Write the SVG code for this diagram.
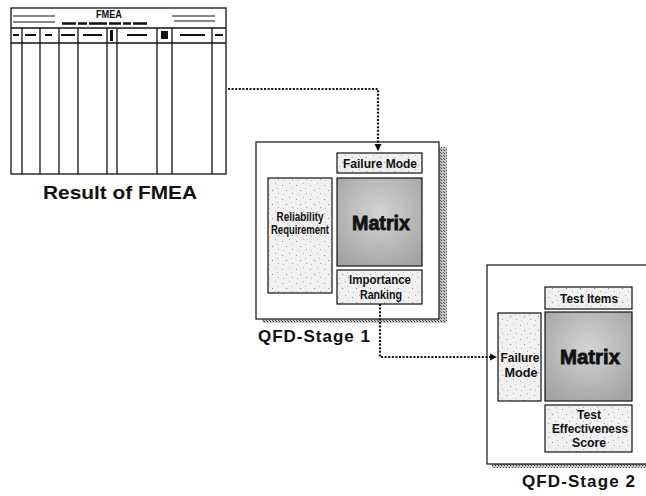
<svg xmlns="http://www.w3.org/2000/svg" width="646" height="496" viewBox="0 0 646 496">
  <style>
    .tbl { fill: none; stroke: #111; stroke-width: 1.3; }
    .ink { fill: #111; }
    .frame { fill: #fff; stroke: #111; stroke-width: 1.2; }
    .shadow { fill: url(#hatch); }
    .cell { fill: url(#speckle); stroke: #111; stroke-width: 1.2; }
    .matrix { fill: url(#matrixFill); stroke: #111; stroke-width: 1.2; }
    .lbl { font-family: "Liberation Sans", Arial, sans-serif; font-weight: bold; font-size: 12px; fill: #111; text-anchor: middle; }
    .big { font-family: "Liberation Sans", Arial, sans-serif; font-weight: bold; font-size: 20px; fill: #111; stroke: #111; stroke-width: 0.8; text-anchor: middle; }
    .cap { font-family: "Liberation Sans", Arial, sans-serif; font-weight: bold; font-size: 17px; fill: #111; }
    .link { fill: none; stroke: #111; stroke-width: 2.2; stroke-dasharray: 2 1.6; }
  </style>
  <defs>
    <pattern id="hatch" width="3" height="3" patternUnits="userSpaceOnUse">
      <rect width="3" height="3" fill="#c4c4c4"/>
      <rect width="1" height="1" fill="#3a3a3a"/>
      <rect x="2" y="2" width="1" height="1" fill="#5a5a5a"/>
    </pattern>
    <pattern id="speckle" width="14" height="14" patternUnits="userSpaceOnUse">
      <rect width="14" height="14" fill="#f0f0f0"/>
      <rect x="2" y="3" width="1" height="1" fill="#9a9a9a"/>
      <rect x="9" y="1" width="1" height="1" fill="#b0b0b0"/>
      <rect x="6" y="8" width="1" height="1" fill="#8a8a8a"/>
      <rect x="12" y="11" width="1" height="1" fill="#a5a5a5"/>
      <rect x="3" y="12" width="1" height="1" fill="#bbbbbb"/>
      <rect x="11" y="6" width="1" height="1" fill="#c0c0c0"/>
    </pattern>
    <radialGradient id="matrixFill" cx="0.5" cy="0.4" r="0.7">
      <stop offset="0" stop-color="#d4d4d4"/>
      <stop offset="1" stop-color="#a2a2a2"/>
    </radialGradient>
    <marker id="arrow" markerWidth="8" markerHeight="8" refX="6" refY="4" orient="auto" markerUnits="userSpaceOnUse">
      <path d="M0,0.5 L7,4 L0,7.5 Z" fill="#111"/>
    </marker>
  </defs>

  <!-- FMEA worksheet -->
  <g id="fmea-sheet">
    <rect class="tbl" x="11" y="8" width="215" height="166"/>
    <line class="tbl" x1="11" y1="28" x2="226" y2="28"/>
    <line class="tbl" x1="11" y1="43" x2="226" y2="43"/>
    <g class="tbl">
      <line x1="22" y1="28" x2="22" y2="174"/>
      <line x1="40" y1="28" x2="40" y2="174"/>
      <line x1="59" y1="28" x2="59" y2="174"/>
      <line x1="78" y1="28" x2="78" y2="174"/>
      <line x1="107" y1="28" x2="107" y2="174"/>
      <line x1="117" y1="28" x2="117" y2="174"/>
      <line x1="157" y1="28" x2="157" y2="174"/>
      <line x1="172" y1="28" x2="172" y2="174"/>
      <line x1="212" y1="28" x2="212" y2="174"/>
    </g>
    <!-- header rules -->
    <g stroke="#111" stroke-width="1">
      <line x1="13" y1="16" x2="55" y2="16"/>
      <line x1="13" y1="22" x2="55" y2="22"/>
      <line x1="172" y1="16" x2="215" y2="16"/>
      <line x1="174" y1="21" x2="215" y2="21"/>
    </g>
    <text x="109" y="18" font-family="Liberation Sans, Arial, sans-serif" font-weight="bold" font-size="11" text-anchor="middle" fill="#111" textLength="26" lengthAdjust="spacingAndGlyphs">FMEA</text>
    <!-- smudged print of the subtitle and column headings -->
    <line x1="62" y1="23.5" x2="156" y2="23.5" stroke="#111" stroke-width="2.4" stroke-dasharray="14 2 9 2 18 2 12 2 8 2 14"/>
    <g class="ink">
      <rect x="13" y="34" width="6" height="2"/>
      <rect x="25" y="34" width="11" height="2"/>
      <rect x="45" y="34" width="7" height="2"/>
      <rect x="61" y="34" width="14" height="2"/>
      <rect x="83" y="34" width="19" height="2"/>
      <rect x="110" y="30" width="3" height="11"/>
      <rect x="127" y="34" width="20" height="2"/>
      <rect x="161" y="31" width="7" height="8"/>
      <rect x="180" y="34" width="25" height="2"/>
      <rect x="215" y="34" width="8" height="2"/>
    </g>
    <text x="43" y="199" font-family="Liberation Sans, Arial, sans-serif" font-weight="bold" font-size="19" fill="#111" textLength="154" lengthAdjust="spacingAndGlyphs">Result of FMEA</text>
  </g>

  <!-- QFD stage 1 -->
  <g id="qfd-stage-1">
    <rect class="shadow" x="262" y="147" width="185" height="176"/>
    <rect class="frame" x="256" y="142" width="183" height="177"/>
    <g id="s1-requirement">
      <rect class="cell" x="268" y="178" width="64" height="115"/>
      <text class="lbl" x="300" y="221" font-size="10" textLength="47" lengthAdjust="spacingAndGlyphs">Reliability</text>
      <text class="lbl" x="300" y="234" font-size="10" textLength="58" lengthAdjust="spacingAndGlyphs">Requirement</text>
    </g>
    <g id="s1-failure-mode">
      <rect class="cell" x="337" y="153" width="85" height="20"/>
      <text class="lbl" x="380" y="168" textLength="74" lengthAdjust="spacingAndGlyphs">Failure Mode</text>
    </g>
    <g id="s1-matrix">
      <rect class="matrix" x="337" y="178" width="85" height="88"/>
      <text class="big" x="381" y="230" textLength="58" lengthAdjust="spacingAndGlyphs">Matrix</text>
    </g>
    <g id="s1-ranking">
      <rect class="cell" x="337" y="270" width="85" height="34"/>
      <text class="lbl" x="380" y="284" font-size="11" textLength="62" lengthAdjust="spacingAndGlyphs">Importance</text>
      <text class="lbl" x="381" y="299" font-size="11" textLength="42" lengthAdjust="spacingAndGlyphs">Ranking</text>
    </g>
    <text class="cap" x="258" y="342" textLength="112" lengthAdjust="spacing">QFD-Stage 1</text>
  </g>

  <!-- QFD stage 2 -->
  <g id="qfd-stage-2">
    <rect class="shadow" x="492" y="270" width="160" height="198"/>
    <rect class="frame" x="487" y="265" width="170" height="199"/>
    <g id="s2-failure-mode">
      <rect class="cell" x="498" y="313" width="43" height="88"/>
      <text class="lbl" x="520" y="362" textLength="39" lengthAdjust="spacingAndGlyphs">Failure</text>
      <text class="lbl" x="521" y="377" textLength="33" lengthAdjust="spacingAndGlyphs">Mode</text>
    </g>
    <g id="s2-test-items">
      <rect class="cell" x="545" y="287" width="87" height="22"/>
      <text class="lbl" x="589" y="303" textLength="58" lengthAdjust="spacingAndGlyphs">Test Items</text>
    </g>
    <g id="s2-matrix">
      <rect class="matrix" x="545" y="312" width="87" height="89"/>
      <text class="big" x="590" y="364" textLength="60" lengthAdjust="spacingAndGlyphs">Matrix</text>
    </g>
    <g id="s2-score">
      <rect class="cell" x="545" y="405" width="87" height="47"/>
      <text class="lbl" x="589" y="419" textLength="24" lengthAdjust="spacingAndGlyphs">Test</text>
      <text class="lbl" x="590" y="433" textLength="76" lengthAdjust="spacingAndGlyphs">Effectiveness</text>
      <text class="lbl" x="589" y="447" textLength="34" lengthAdjust="spacingAndGlyphs">Score</text>
    </g>
    <text class="cap" x="522" y="487" textLength="113" lengthAdjust="spacing">QFD-Stage 2</text>
  </g>

  <!-- connectors -->
  <g id="connectors">
    <path class="link" d="M228,89 H378 V150" marker-end="url(#arrow)"/>
    <path class="link" d="M380,304 V357 H496" marker-end="url(#arrow)"/>
  </g>
</svg>
